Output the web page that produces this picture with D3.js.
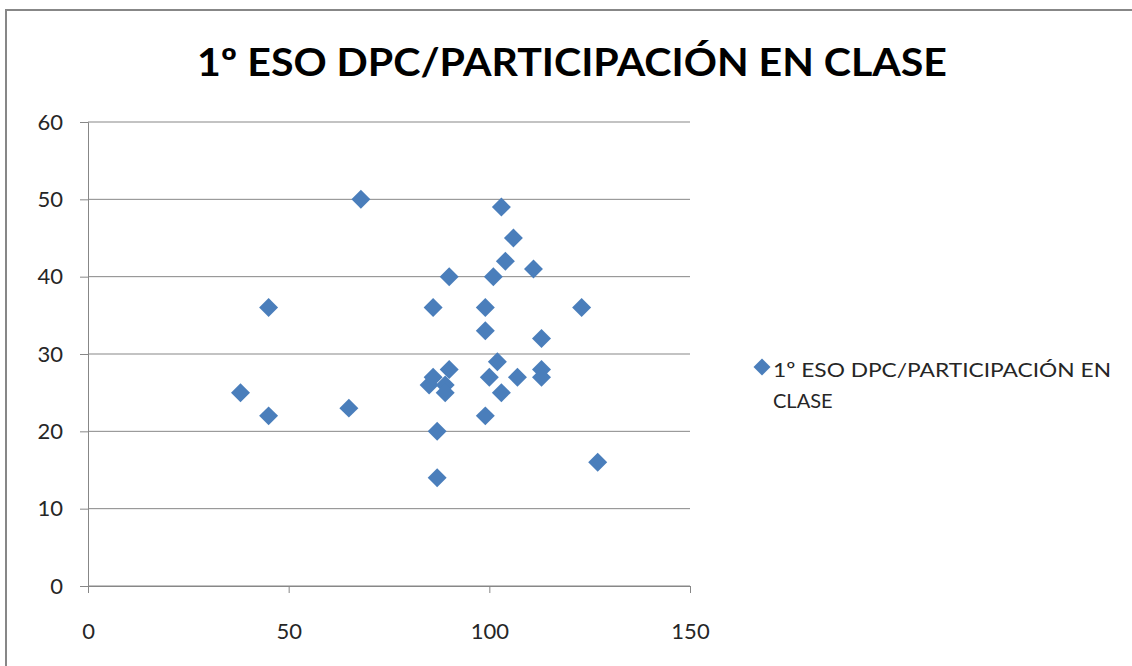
<!DOCTYPE html>
<html>
<head>
<meta charset="utf-8">
<script src="https://cdn.jsdelivr.net/npm/d3@7"></script>
<style>
  body { margin: 0; background: #fff; }
  svg { display: block; }
</style>
</head>
<body>
<div id="chart"></div>
<script>
// DPC score (x) vs class participation (y)
var dpc =           [38, 45, 45, 65, 68, 85, 86, 86, 87, 87, 89, 89, 90, 90, 99, 99,
                     99, 100, 101, 102, 103, 103, 104, 106, 107, 111, 113, 113, 113, 123, 127];
var participacion = [25, 36, 22, 23, 50, 26, 27, 36, 20, 14, 26, 25, 28, 40, 36, 33,
                     22, 27, 40, 29, 49, 25, 42, 45, 27, 41, 32, 28, 27, 36, 16];
var xTicks = [0, 50, 100, 150];
var yTicks = [0, 10, 20, 30, 40, 50, 60];
var seriesName = "1º ESO DPC/PARTICIPACIÓN EN CLASE";

function drawChart() {
    var W = 1132, H = 666;
    var plot = { left: 88, right: 690, top: 122, bottom: 586 };
    var font = "Lato, 'Open Sans', sans-serif";
    var blue = "#4a7ebb";
    var grey = "#878787";

    var svg = d3.select("#chart").append("svg")
        .attr("width", W)
        .attr("height", H);

    // chart frame (cut by the picture on the right and bottom)
    svg.append("path")
        .attr("d", "M6," + H + "V10H" + W)
        .attr("fill", "none")
        .attr("stroke", grey)
        .attr("stroke-width", 2);

    svg.append("text")
        .attr("x", 572)
        .attr("y", 76)
        .attr("text-anchor", "middle")
        .attr("font-family", font)
        .attr("font-weight", "bold")
        .attr("font-size", 39)
        .attr("textLength", 750)
        .attr("lengthAdjust", "spacingAndGlyphs")
        .attr("fill", "#000")
        .text(seriesName);

    var x = d3.scaleLinear().domain([0, 150]).range([plot.left, plot.right]);
    var y = d3.scaleLinear().domain([0, 60]).range([plot.bottom, plot.top]);

    // horizontal gridlines
    svg.append("g")
        .selectAll("line")
        .data(yTicks)
        .enter().append("line")
        .attr("x1", plot.left)
        .attr("x2", plot.right)
        .attr("y1", function(d) { return y(d); })
        .attr("y2", function(d) { return y(d); })
        .attr("stroke", grey)
        .attr("stroke-width", 1);

    // y axis
    var yAxis = svg.append("g")
        .attr("transform", "translate(" + plot.left + ",0)")
        .call(d3.axisLeft(y).tickValues(yTicks).tickSize(8).tickPadding(17));

    // x axis
    var xAxis = svg.append("g")
        .attr("transform", "translate(0," + plot.bottom + ")")
        .call(d3.axisBottom(x).tickValues(xTicks).tickSize(7).tickPadding(28));

    [yAxis, xAxis].forEach(function(a) {
        a.selectAll(".domain").attr("stroke", grey);
        a.selectAll(".tick line").attr("stroke", grey);
        a.selectAll("text")
            .attr("font-family", font)
            .attr("font-size", 22)
            .attr("fill", "#262626");
    });
    xAxis.selectAll("text").attr("dy", "0.35em").attr("y", 45);

    var points = dpc.map(function(d, i) { return { x: d, y: participacion[i] }; });

    var diamond = d3.symbol().type(d3.symbolSquare).size(180);
    svg.append("g")
        .selectAll("path")
        .data(points)
        .enter().append("path")
        .attr("d", diamond)
        .attr("transform", function(d) {
            return "translate(" + x(d.x) + "," + y(d.y) + ") rotate(45)";
        })
        .attr("fill", blue);

    // legend
    var legend = svg.append("g").attr("transform", "translate(762,367)");
    legend.append("path")
        .attr("d", d3.symbol().type(d3.symbolSquare).size(144))
        .attr("transform", "rotate(45)")
        .attr("fill", blue);
    var legendText = legend.append("text")
        .attr("font-family", font)
        .attr("font-size", 20)
        .attr("fill", "#262626");
    legendText.append("tspan")
        .attr("x", 11)
        .attr("y", 10)
        .attr("textLength", 338)
        .attr("lengthAdjust", "spacingAndGlyphs")
        .text("1º ESO DPC/PARTICIPACIÓN EN");
    legendText.append("tspan")
        .attr("x", 11)
        .attr("y", 41)
        .text("CLASE");
}

drawChart();
</script>
</body>
</html>
